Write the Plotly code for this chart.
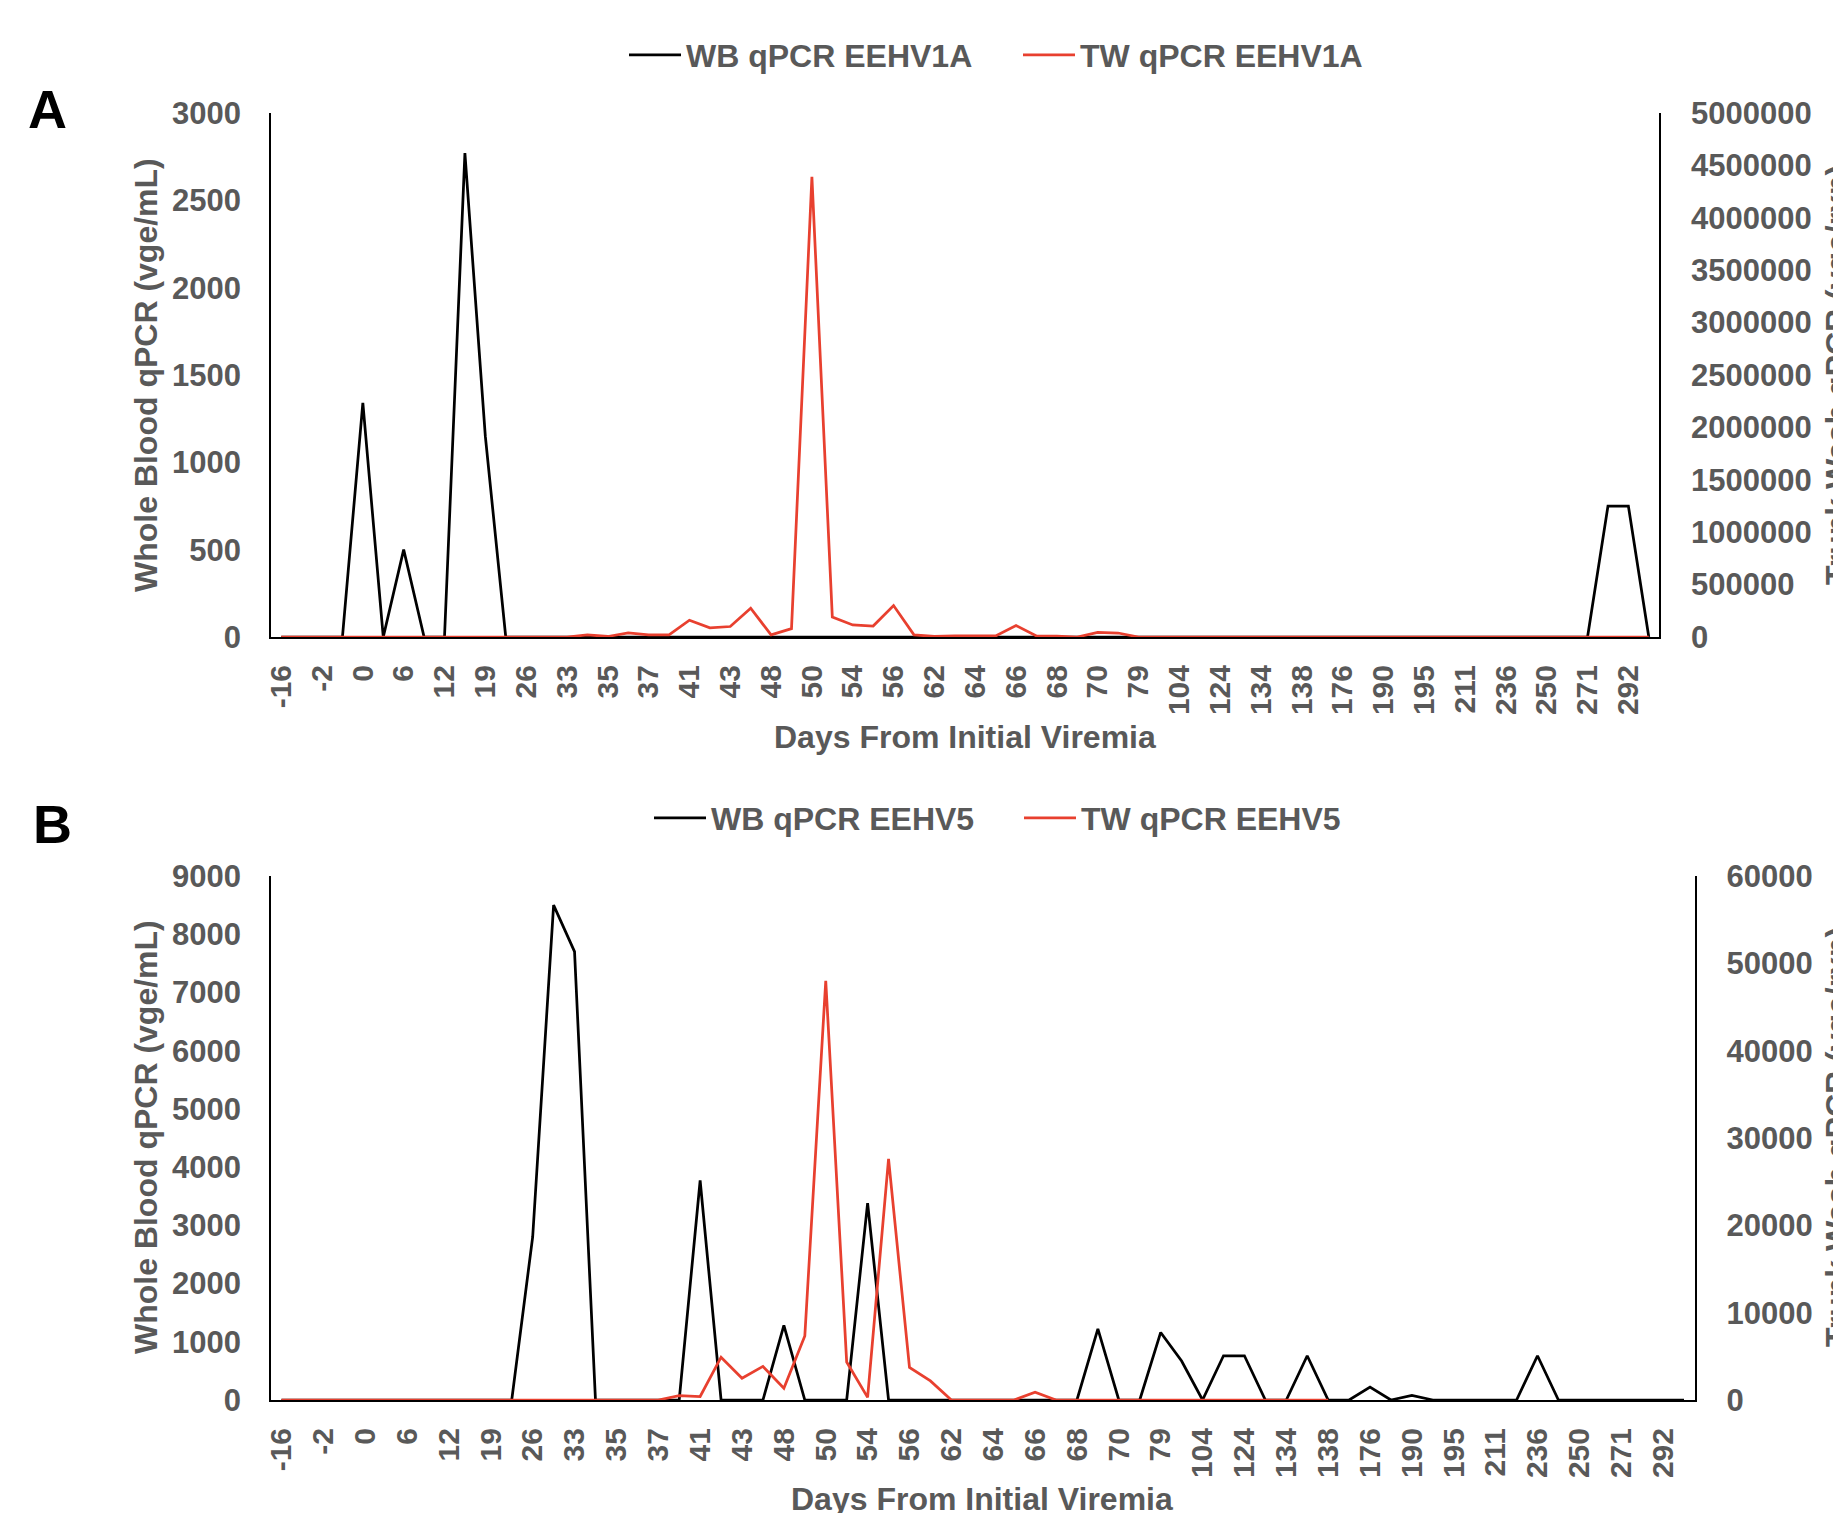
import plotly.graph_objects as go

# ---------------- data ----------------
days = ["-16", "-9", "-2", "-1", "0", "3", "6", "9", "12", "15", "19", "22", "26", "29",
        "33", "34", "35", "36", "37", "39", "41", "42", "43", "46", "48", "49", "50", "52",
        "54", "55", "56", "59", "62", "63", "64", "65", "66", "67", "68", "69", "70", "75",
        "79", "90", "104", "114", "124", "129", "134", "136", "138", "155", "176", "183",
        "190", "192", "195", "203", "211", "223", "236", "243", "250", "260", "271", "281",
        "292", "300"]
tick_days = days[::2]

# Panel A (EEHV1A)
wb_a = [0, 0, 0, 0, 1340, 0, 500, 0, 0, 2770, 1150, 0, 0, 0,
        0, 0, 0, 0, 0, 0, 0, 0, 0, 0, 0, 0, 0, 0,
        0, 0, 0, 0, 0, 0, 0, 0, 0, 0, 0, 0, 0, 0,
        0, 0, 0, 0, 0, 0, 0, 0, 0, 0, 0, 0,
        0, 0, 0, 0, 0, 0, 0, 0, 0, 0, 0, 750,
        750, 0]
tw_a = [0, 0, 0, 0, 0, 0, 0, 0, 0, 0, 0, 0, 0, 0,
        0, 20000, 5000, 40000, 20000, 20000, 160000, 87000, 100000, 275000, 20000, 80000, 4390000, 190000,
        115000, 105000, 300000, 20000, 5000, 10000, 10000, 10000, 110000, 10000, 8000, 0, 43000, 38000,
        0, 0, 0, 0, 0, 0, 0, 0, 0, 0, 0, 0,
        0, 0, 0, 0, 0, 0, 0, 0, 0, 0, 0, 0,
        0, 0]

# Panel B (EEHV5)
wb_b = [0, 0, 0, 0, 0, 0, 0, 0, 0, 0, 0, 0, 2800, 8500,
        7700, 0, 0, 0, 0, 0, 3770, 0, 0, 0, 1280, 0, 0, 0,
        3380, 0, 0, 0, 0, 0, 0, 0, 0, 0, 0, 1220, 0, 0,
        1160, 670, 0, 760, 760, 0, 0, 760, 0, 0, 220, 0,
        80, 0, 0, 0, 0, 0, 760, 0, 0, 0, 0, 0,
        0, 0]
tw_b = [0, 0, 0, 0, 0, 0, 0, 0, 0, 0, 0, 0, 0, 0,
        0, 0, 0, 0, 0, 500, 400, 4900, 2500, 3850, 1350, 7330, 48000, 4350,
        300, 27600, 3730, 2180, 0, 0, 0, 0, 900, 0, 0, 0, 0, 0,
        0, 0, 0, 0, 0, 0, 0, 0, 0, None, None, None,
        None, None, None, None, None, None, None, None, None, None, None, None,
        None, None]

# ---------------- style ----------------
W, H = 1841, 1513
OFF = 8  # page body margin
RED = "#E8402F"
GRAY = "#595959"
FONT = "Liberation Sans, Arial, sans-serif"
LW = 2.75


def px(x):
    return (x - OFF) / W


def py(y):
    return 1 - (y - OFF) / H


A_x = [px(271), px(1659)]
A_y = [py(637), py(113)]
B_x = [px(271), px(1694.5)]
B_y = [py(1400), py(876)]

fig = go.Figure()
fig.add_trace(go.Scatter(x=days, y=wb_a, name="WB qPCR EEHV1A", mode="lines",
                         line=dict(color="black", width=LW), xaxis="x", yaxis="y", legend="legend"))
fig.add_trace(go.Scatter(x=days, y=tw_a, name="TW qPCR EEHV1A", mode="lines",
                         line=dict(color=RED, width=LW), xaxis="x", yaxis="y2", legend="legend"))
fig.add_trace(go.Scatter(x=days, y=wb_b, name="WB qPCR EEHV5", mode="lines",
                         line=dict(color="black", width=LW), xaxis="x2", yaxis="y3", legend="legend2"))
fig.add_trace(go.Scatter(x=days, y=tw_b, name="TW qPCR EEHV5", mode="lines",
                         line=dict(color=RED, width=LW), xaxis="x2", yaxis="y4", legend="legend2"))

tickfont = dict(family=FONT, size=31, color=GRAY, weight="bold")
xtickfont = dict(family=FONT, size=30, color=GRAY, weight="bold")


def xaxis(domain, anchor):
    return dict(type="category", categoryorder="array", categoryarray=days,
                range=[-0.5, len(days) - 0.5], tickvals=tick_days, ticktext=tick_days,
                tickangle=-90, tickfont=xtickfont, showline=True, linecolor="black",
                linewidth=2, ticks="", showgrid=False, zeroline=False, domain=domain,
                anchor=anchor, automargin=False, ticklabelstandoff=14)


def yaxis(domain, anchor, rng, dtick, side="left", overlaying=None):
    d = dict(range=rng, dtick=dtick, tick0=0, tickfont=tickfont, showline=True,
             linecolor="black", linewidth=1.5, ticks="", showgrid=False, zeroline=False,
             anchor=anchor, automargin=False, side=side, tickformat="d",
             ticklabelstandoff=22 if side == "left" else 24)
    if overlaying:
        d["overlaying"] = overlaying
    else:
        d["domain"] = domain
    return d


legend_font = dict(family=FONT, size=32, color=GRAY, weight="bold")

fig.update_layout(
    width=W, height=H, margin=dict(l=0, r=0, t=0, b=0, autoexpand=False),
    paper_bgcolor="white", plot_bgcolor="white",
    font=dict(family=FONT, color=GRAY),
    xaxis=xaxis(A_x, "y"),
    yaxis=yaxis(A_y, "x", [0, 3000], 500),
    yaxis2=yaxis(A_y, "x", [0, 5000000], 500000, side="right", overlaying="y"),
    xaxis2=xaxis(B_x, "y3"),
    yaxis3=yaxis(B_y, "x2", [0, 9000], 1000),
    yaxis4=yaxis(B_y, "x2", [0, 60000], 10000, side="right", overlaying="y3"),
    legend=dict(orientation="h", x=px(624), xanchor="left", y=py(55), yanchor="middle",
                font=legend_font, bgcolor="rgba(0,0,0,0)", itemwidth=52,
                entrywidth=327, entrywidthmode="pixels"),
    legend2=dict(orientation="h", x=px(649), xanchor="left", y=py(818), yanchor="middle",
                 font=legend_font, bgcolor="rgba(0,0,0,0)", itemwidth=52,
                 entrywidth=303, entrywidthmode="pixels"),
    showlegend=True,
)

title_font = dict(family=FONT, size=32, color=GRAY, weight="bold")
ann = []
ann.append(dict(text="A", x=px(47), y=py(109), xref="paper", yref="paper", showarrow=False,
                xanchor="center", yanchor="middle",
                font=dict(family=FONT, size=54, color="black", weight="bold")))
ann.append(dict(text="B", x=px(52), y=py(824), xref="paper", yref="paper", showarrow=False,
                xanchor="center", yanchor="middle",
                font=dict(family=FONT, size=54, color="black", weight="bold")))
for yc in (375, 1137):
    ann.append(dict(text="Whole Blood qPCR (vge/mL)", x=px(146), y=py(yc), xref="paper",
                    yref="paper", showarrow=False, textangle=-90, font=title_font,
                    xanchor="center", yanchor="middle"))
    ann.append(dict(text="Trunk Wash qPCR (vge/rxn)", x=px(1817), y=py(yc), xref="paper",
                    yref="paper", showarrow=False, textangle=-90, font=title_font,
                    xanchor="left", yanchor="middle"))
ann.append(dict(text="Days From Initial Viremia", x=px(965), y=py(737), xref="paper",
                yref="paper", showarrow=False, font=title_font, xanchor="center",
                yanchor="middle"))
ann.append(dict(text="Days From Initial Viremia", x=px(982.5), y=py(1499), xref="paper",
                yref="paper", showarrow=False, font=title_font, xanchor="center",
                yanchor="middle"))
fig.update_layout(annotations=ann)

fig.write_html("out.html")
